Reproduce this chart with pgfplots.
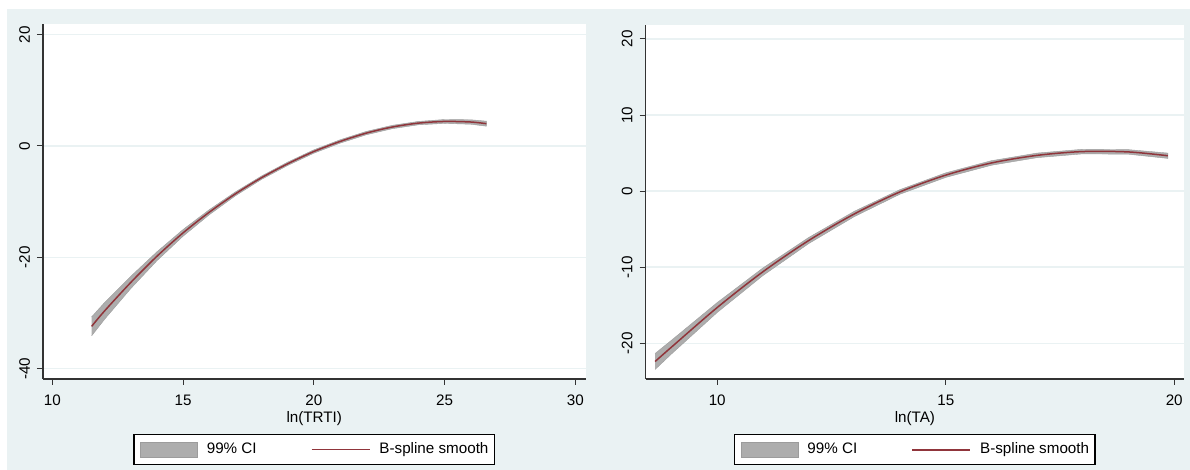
\documentclass[border=0pt]{standalone}
\usepackage{fontspec}
\setmainfont{Liberation Sans}
\usepackage{pgfplots}
\pgfplotsset{compat=1.18}
\usepackage{pgfplotstable}
\definecolor{bgc}{HTML}{EAF2F3}
\definecolor{ciG}{HTML}{ADADAD}
\definecolor{ciE}{HTML}{9C9C9C}
\definecolor{mar}{HTML}{90353B}

% ln(TRTI): fitted spline
\pgfplotstableread{
x y
11.5 -32.4
12 -29.6
13 -24.5
14 -19.8
15 -15.6
16 -11.9
17 -8.6
18 -5.7
19 -3.2
20 -1.0
21 0.8
22 2.3
23 3.4
24 4.1
25 4.4
26 4.3
26.6 4.0
}\trti
% ln(TRTI): 99% CI outline (upper bound forward, lower bound back)
\pgfplotstableread{
x b
11.5 -30.7
12 -28.1
13 -23.4
14 -19.0
15 -15.0
16 -11.45
17 -8.25
18 -5.4
19 -2.9
20 -0.7
21 1.1
22 2.6
23 3.7
24 4.4
25 4.75
26 4.7
26.6 4.45
26.6 3.55
26 3.9
25 4.05
24 3.8
23 3.1
22 2.0
21 0.5
20 -1.3
19 -3.5
18 -6.0
17 -8.95
16 -12.35
15 -16.2
14 -20.6
13 -25.6
12 -31.1
11.5 -34.1
}\trtiband

% ln(TA): fitted spline
\pgfplotstableread{
x y
8.64 -22.4
9 -20.5
10 -15.3
11 -10.6
12 -6.5
13 -3.0
14 -0.1
15 2.1
16 3.7
17 4.7
18 5.2
19 5.15
19.86 4.65
}\ta
% ln(TA): 99% CI outline
\pgfplotstableread{
x b
8.64 -21.35
9 -19.6
10 -14.65
11 -10.1
12 -6.1
13 -2.65
14 0.2
15 2.4
16 4.0
17 5.0
18 5.5
19 5.45
19.86 5.0
19.86 4.3
19 4.85
18 4.9
17 4.4
16 3.4
15 1.8
14 -0.4
13 -3.35
12 -6.9
11 -11.1
10 -15.95
9 -21.4
8.64 -23.45
}\taband

\pgfplotsset{stata/.style={
  scale only axis,
  axis x line*=bottom, axis y line*=left,
  axis line style={black!80, line width=0.6pt},
  axis background/.style={fill=white},
  tick align=outside, major tick length=3pt,
  tick style={black!80, line width=0.5pt},
  minor tick num=0,
  ymajorgrids, grid style={bgc, line width=0.7pt},
  /pgf/number format/assume math mode=true,
  tick label style={font=\fontsize{7.6pt}{9pt}\selectfont},
  label style={font=\fontsize{7.6pt}{9pt}\selectfont},
  yticklabel style={rotate=90, anchor=south},
  xticklabel style={yshift=-1.5pt},
  x label style={at={(axis description cs:0.5,0)}, anchor=center, yshift=-20pt},
  legend columns=2,
  legend style={
    at={(0.5,-0.1549)}, anchor=north,
    draw=black, line width=0.7pt, fill=white,
    font=\fontsize{7.6pt}{9pt}\selectfont,
    inner xsep=3pt, inner ysep=3.5pt,
    nodes={inner xsep=0pt, inner ysep=0pt},
    /tikz/every odd column/.append style={column sep=4.5pt},
    /tikz/every even column/.append style={column sep=27pt},
  },
  ciband/.style={fill=ciG, draw=ciG!90!black, line width=0.2pt, area legend,
    legend image code/.code={\path[fill=ciG, draw=ciE, line width=0.4pt] (0pt,-3.75pt) rectangle (28.5pt,3.75pt);}},
  fitline/.style={draw=mar, line width=0.75pt, smooth, tension=0.5,
    legend image code/.code={\draw[color=mar, draw=mar, solid, line width=0.9pt] (0pt,0pt) -- (29pt,0pt);}},
}}

\begin{document}
\begin{tikzpicture}
\path (0,0) rectangle (595pt,235pt);
\fill[bgc] (3.5pt,0) rectangle (595pt,230.5pt);

% Left panel
\begin{axis}[stata,
  at={(21.5pt,45.5pt)}, anchor=south west,
  width=271.25pt, height=177.5pt,
  xmin=9.64, xmax=30.39, ymin=-41.85, ymax=21.9,
  xtick={10,15,20,25,30}, ytick={-40,-20,0,20},
  xlabel={ln(TRTI)},
]
\addplot[ciband] table[x=x, y=b] {\trtiband};
\addlegendentry{99\% CI}
\addplot[fitline] table[x=x, y=y] {\trti};
\addlegendentry{B-spline smooth}
\end{axis}

% Right panel
\begin{axis}[stata,
  at={(322.75pt,45.5pt)}, anchor=south west,
  width=269.4pt, height=177pt,
  xmin=8.43, xmax=20.22, ymin=-24.7, ymax=21.84,
  xtick={10,15,20}, ytick={-20,-10,0,10,20},
  xlabel={ln(TA)},
  legend style={at={(0.5,-0.1554)}},
]
\addplot[ciband] table[x=x, y=b] {\taband};
\addlegendentry{99\% CI}
\addplot[fitline] table[x=x, y=y] {\ta};
\addlegendentry{B-spline smooth}
\end{axis}
\end{tikzpicture}
\end{document}
